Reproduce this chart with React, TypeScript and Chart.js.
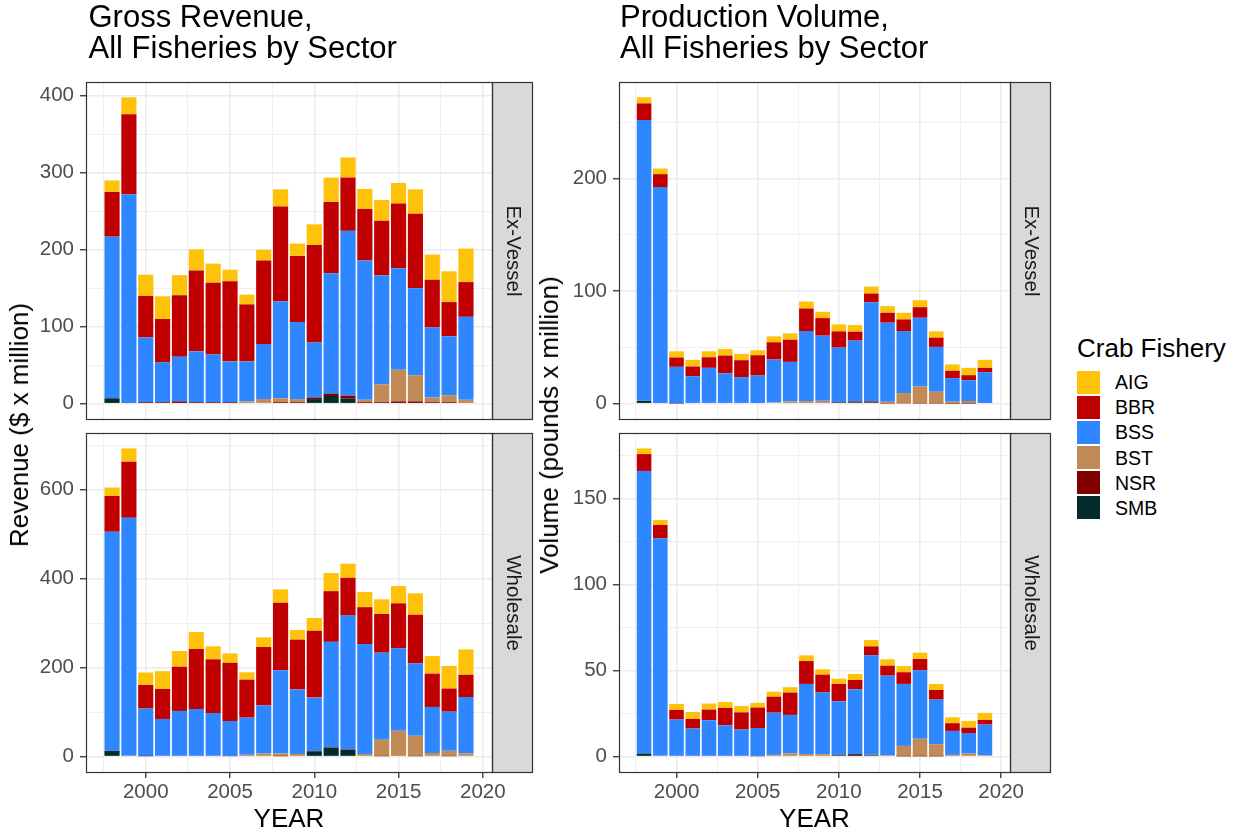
import React, { useEffect, useRef } from "react";
import { Chart, registerables } from "chart.js";

Chart.register(...registerables);

// ---------------- DATA ----------------
const YEARS = [1998, 1999, 2000, 2001, 2002, 2003, 2004, 2005, 2006, 2007, 2008, 2009, 2010, 2011, 2012, 2013, 2014, 2015, 2016, 2017, 2018, 2019];
const SERIES = ["AIG", "BBR", "BSS", "BST", "NSR", "SMB"];
const SERIES_COLORS = ["#FFC20A", "#C00000", "#2E87FF", "#C18A57", "#800000", "#032B2B"];

// Gross revenue, ex-vessel ($ million)
const REV_EX_AIG = [15, 22, 27.5, 29.5, 26, 27.6, 25, 15, 12.6, 14, 22.5, 16, 27, 31.6, 26, 26, 27.1, 26.7, 31.8, 32.7, 40, 43.5];
const REV_EX_BBR = [58, 104, 54, 56, 80, 105, 93, 104, 74, 108.5, 123, 86, 126.4, 92.4, 69.3, 67, 71, 84, 96.7, 62, 44.6, 45.2];
const REV_EX_BSS = [210, 272, 84, 52, 58, 66, 62, 53, 52, 71.5, 126, 100, 71.6, 156.6, 214, 181, 141.6, 132, 113, 91, 76.4, 107.8];
const REV_EX_BST = [0, 0, 0, 0, 0, 0, 0, 0, 2, 5, 5, 4, 0, 0, 0, 3, 23, 41, 34, 6, 9, 5];
const REV_EX_NSR = [0, 0, 2, 2, 3, 2, 2, 2, 1, 1, 2, 1, 2, 3, 4, 2, 2, 3, 3, 2, 2, 0];
const REV_EX_SMB = [7, 0, 0, 0, 0, 0, 0, 0, 0, 0, 0, 1, 6, 10, 6.5, 0, 0, 0, 0, 0, 0, 0];

// Gross revenue, wholesale ($ million)
const REV_WH_AIG = [19, 30, 28, 40, 35.5, 38, 29.3, 21, 16.5, 21.6, 30, 21.6, 28.6, 40.7, 31.7, 34, 33, 38.9, 48, 39.5, 51, 57];
const REV_WH_BBR = [80.4, 126, 53, 67.4, 99.4, 135, 120.7, 131, 85.4, 131.4, 152, 112, 150.4, 114, 85, 83, 86.9, 101.2, 109.3, 74.9, 52, 50];
const REV_WH_BSS = [492.6, 537, 107, 84.6, 102.6, 107, 98, 79, 83.6, 108, 187, 145, 119.6, 237, 301, 247, 195.7, 185.4, 162.7, 103.6, 88, 127];
const REV_WH_BST = [0, 0, 0, 0, 0, 0, 0, 1, 4, 7, 6, 6, 0, 0, 0, 6, 37, 56, 46, 8, 12, 7];
const REV_WH_NSR = [0, 0, 1, 0, 0, 0, 0, 0, 0, 0, 1, 0, 1, 1, 1, 0, 1, 2, 1, 0, 1, 0];
const REV_WH_SMB = [13, 0, 0, 0, 0, 0, 0, 0, 0, 0, 0, 0, 12, 20, 15, 0, 0, 0, 0, 0, 0, 0];

// Production volume, ex-vessel (million lb)
const VOL_EX_AIG = [5.4, 5, 5.5, 5.9, 5.3, 5.9, 5.6, 4.4, 5.3, 5.6, 6.2, 5.6, 6.2, 5.9, 6.2, 5.9, 5.9, 6.2, 5.6, 5.6, 6.5, 7.1];
const VOL_EX_BBR = [14.8, 11.5, 8.3, 8.6, 9.4, 15.7, 15, 18, 15.3, 19.7, 20, 15.6, 14.4, 7.9, 7.7, 8.8, 10.3, 9.4, 8.2, 6.5, 4.4, 3.8];
const VOL_EX_BSS = [249.3, 192.3, 32.4, 24.4, 31.8, 27, 23.6, 24.4, 38, 35.1, 62.2, 57.9, 48.3, 54, 88.1, 70.1, 55.1, 61, 39.8, 20.9, 18.5, 27.4];
const VOL_EX_BST = [0, 0, 0, 0, 0, 0, 0, 0.6, 1.2, 2, 2.3, 2.5, 0, 0, 0, 1.5, 9, 15, 10.3, 1.6, 2.2, 0.6];
const VOL_EX_NSR = [0, 0, 0.3, 0, 0, 0, 0, 0, 0, 0, 0, 0, 0.5, 0.8, 1, 0.3, 0.4, 0.3, 0.3, 0.2, 0.2, 0];
const VOL_EX_SMB = [2.5, 0, 0, 0, 0, 0, 0, 0, 0, 0, 0, 0, 1, 1.2, 1, 0, 0, 0, 0, 0, 0, 0];

// Production volume, wholesale (million lb)
const VOL_WH_AIG = [3.3, 2.9, 3.5, 4, 3.5, 3.4, 3.7, 2.7, 2.9, 3.1, 3.3, 3.1, 3.1, 3.5, 3.7, 3.7, 3.6, 3.7, 3.5, 3.4, 3.9, 4.1];
const VOL_WH_BBR = [9.8, 7.7, 5.6, 5.6, 6.2, 10.1, 10, 11.9, 9.3, 13, 13.3, 10.4, 10.1, 5.4, 5.2, 5.8, 6.8, 6.6, 5.6, 4.5, 3.1, 2.7];
const VOL_WH_BSS = [164.2, 126.8, 21.5, 16.3, 21.1, 18.2, 15.7, 16.4, 24.5, 22.3, 40.7, 35.8, 31.1, 37.6, 57.8, 46.2, 36, 39.8, 25.9, 13.9, 12, 17.8];
const VOL_WH_BST = [0, 0, 0, 0, 0, 0, 0, 0.2, 1, 1.9, 1.5, 1.4, 0, 0, 0, 0.8, 6, 10.1, 7, 1, 1.7, 0.8];
const VOL_WH_NSR = [0, 0, 0, 0, 0, 0, 0, 0, 0, 0, 0, 0, 0.3, 0.5, 0.3, 0, 0.2, 0.2, 0.2, 0, 0, 0];
const VOL_WH_SMB = [1.7, 0, 0, 0, 0, 0, 0, 0, 0, 0, 0, 0, 0.7, 1, 0.7, 0, 0, 0, 0, 0, 0, 0];

const X_TICKS = [2000, 2005, 2010, 2015, 2020];
const REV_EX_TICKS = [0, 100, 200, 300, 400];
const REV_WH_TICKS = [0, 200, 400, 600];
const VOL_EX_TICKS = [0, 100, 200];
const VOL_WH_TICKS = [0, 50, 100, 150];

const TITLE_LEFT = ["Gross Revenue,", "All Fisheries by Sector"];
const TITLE_RIGHT = ["Production Volume,", "All Fisheries by Sector"];
const Y_TITLE_LEFT = "Revenue ($ x million)";
const Y_TITLE_RIGHT = "Volume (pounds x million)";
const X_TITLE = "YEAR";
const LEGEND_TITLE = "Crab Fishery";
const STRIP_TOP = "Ex-Vessel";
const STRIP_BOTTOM = "Wholesale";

// ---------------- LAYOUT / STYLE ----------------
const FONT = '"Liberation Sans", Arial, Helvetica, sans-serif';
const STRIP_W = 40;
const Y_AXIS_W = 70;
const X_AXIS_H = 40;
const PAD_T = 24;
const PAD_B = 24;

type PanelDef = {
  id: string;
  left: number; top: number; right: number; bottom: number;
  showX: boolean; strip: string; ticks: number[];
  series: number[][]; // in SERIES order
};

const PANELS: PanelDef[] = [
  { id: "revEx", left: 86, top: 82, right: 492, bottom: 419, showX: false, strip: STRIP_TOP, ticks: REV_EX_TICKS,
    series: [REV_EX_AIG, REV_EX_BBR, REV_EX_BSS, REV_EX_BST, REV_EX_NSR, REV_EX_SMB] },
  { id: "revWh", left: 86, top: 433, right: 492, bottom: 772, showX: true, strip: STRIP_BOTTOM, ticks: REV_WH_TICKS,
    series: [REV_WH_AIG, REV_WH_BBR, REV_WH_BSS, REV_WH_BST, REV_WH_NSR, REV_WH_SMB] },
  { id: "volEx", left: 619, top: 82, right: 1010, bottom: 419, showX: false, strip: STRIP_TOP, ticks: VOL_EX_TICKS,
    series: [VOL_EX_AIG, VOL_EX_BBR, VOL_EX_BSS, VOL_EX_BST, VOL_EX_NSR, VOL_EX_SMB] },
  { id: "volWh", left: 619, top: 433, right: 1010, bottom: 772, showX: true, strip: STRIP_BOTTOM, ticks: VOL_WH_TICKS,
    series: [VOL_WH_AIG, VOL_WH_BBR, VOL_WH_BSS, VOL_WH_BST, VOL_WH_NSR, VOL_WH_SMB] },
];

function withMinor(major: number[], min: number, max: number) {
  const step = major[1] - major[0];
  const out: number[] = [];
  for (let v = major[0] - step; v <= major[major.length - 1] + step + 1e-9; v += step / 2) {
    if (v >= min - 1e-9 && v <= max + 1e-9) out.push(Math.round(v * 1000) / 1000);
  }
  return out;
}

const framePlugin = {
  id: "frame",
  afterDraw(chart: any, _args: any, opts: any) {
    const { ctx } = chart;
    const { left, top, right, bottom } = chart.chartArea;
    const l = Math.round(left) + 0.5;
    const t = Math.round(top) + 0.5;
    const r = Math.round(right) + 0.5;
    const b = Math.round(bottom) + 0.5;
    ctx.save();
    ctx.fillStyle = "#D9D9D9";
    ctx.fillRect(r, t, STRIP_W, b - t);
    ctx.strokeStyle = "#333333";
    ctx.lineWidth = 1.2;
    ctx.strokeRect(l, t, r - l, b - t);
    ctx.strokeRect(r, t, STRIP_W, b - t);
    ctx.translate(r + STRIP_W / 2, (t + b) / 2);
    ctx.rotate(Math.PI / 2);
    ctx.fillStyle = "#1A1A1A";
    ctx.font = `20.5px ${FONT}`;
    ctx.textAlign = "center";
    ctx.textBaseline = "middle";
    ctx.fillText(opts.label || "", 0, 0);
    ctx.restore();
  },
};

function PanelChart({ p }: { p: PanelDef }) {
  const ref = useRef<HTMLCanvasElement | null>(null);
  const cLeft = p.left - Y_AXIS_W;
  const cTop = p.top - PAD_T;
  const cW = p.right + STRIP_W + 6 - cLeft;
  const cH = p.bottom + (p.showX ? X_AXIS_H + 4 : PAD_B) - cTop;

  useEffect(() => {
    if (!ref.current) return;
    const totals = YEARS.map((_, i) => p.series.reduce((s, arr) => s + arr[i], 0));
    const yTop = Math.max(...totals);
    const yMin = -0.05 * yTop;
    const yMax = 1.05 * yTop;
    const xLo = YEARS[0] - 0.45;
    const xHi = YEARS[YEARS.length - 1] + 0.45;
    const xPad = 0.05 * (xHi - xLo);
    const xMin = xLo - xPad;
    const xMax = xHi + xPad;
    const xTicks = withMinor(X_TICKS, xMin, xMax);
    const yTicks = withMinor(p.ticks, yMin, yMax);
    const isMajX = (v: number) => X_TICKS.includes(v);
    const isMajY = (v: number) => p.ticks.includes(v);

    const stackOrder = [5, 4, 3, 2, 1, 0]; // SMB at bottom ... AIG on top
    const datasets = stackOrder.map((si) => ({
      label: SERIES[si],
      data: YEARS.map((y, i) => ({ x: y, y: p.series[si][i] })),
      backgroundColor: SERIES_COLORS[si],
      borderWidth: 0,
      barPercentage: 0.9,
      categoryPercentage: 1,
    }));

    const chart = new Chart(ref.current, {
      type: "bar",
      data: { datasets } as any,
      options: {
        animation: false,
        responsive: false,
        devicePixelRatio: 1,
        layout: { padding: { left: 0, top: PAD_T, right: STRIP_W + 6, bottom: p.showX ? 4 : PAD_B } },
        plugins: {
          legend: { display: false },
          tooltip: { enabled: false },
          frame: { label: p.strip },
        } as any,
        scales: {
          x: {
            type: "linear",
            stacked: true,
            offset: false,
            min: xMin,
            max: xMax,
            afterBuildTicks: (s: any) => { s.ticks = xTicks.map((v) => ({ value: v })); },
            afterFit: (s: any) => { s.height = p.showX ? X_AXIS_H : 0; },
            ticks: {
              display: p.showX,
              autoSkip: false,
              maxRotation: 0,
              padding: 2,
              color: "#4D4D4D",
              font: { family: FONT, size: 20.5 },
              callback: (v: any) => (isMajX(Number(v)) ? String(v) : ""),
            },
            grid: {
              offset: false,
              drawTicks: p.showX,
              tickLength: 6,
              color: "#EBEBEB",
              lineWidth: (c: any) => (c.tick && isMajX(c.tick.value) ? 1.5 : 0.75),
              tickColor: (c: any) => (c.tick && isMajX(c.tick.value) ? "#333333" : "rgba(0,0,0,0)"),
              tickWidth: 1.3,
            },
            border: { display: false },
          },
          y: {
            type: "linear",
            stacked: true,
            min: yMin,
            max: yMax,
            afterBuildTicks: (s: any) => { s.ticks = yTicks.map((v) => ({ value: v })); },
            afterFit: (s: any) => { s.width = Y_AXIS_W; },
            ticks: {
              autoSkip: false,
              padding: 6,
              color: "#4D4D4D",
              font: { family: FONT, size: 20.5 },
              callback: (v: any) => (isMajY(Number(v)) ? String(v) : ""),
            },
            grid: {
              drawTicks: true,
              tickLength: 6,
              color: "#EBEBEB",
              lineWidth: (c: any) => (c.tick && isMajY(c.tick.value) ? 1.5 : 0.75),
              tickColor: (c: any) => (c.tick && isMajY(c.tick.value) ? "#333333" : "rgba(0,0,0,0)"),
              tickWidth: 1.3,
            },
            border: { display: false },
          },
        },
      } as any,
      plugins: [framePlugin as any],
    });
    return () => chart.destroy();
  }, []);

  return (
    <canvas
      ref={ref}
      width={cW}
      height={cH}
      style={{ position: "absolute", left: cLeft, top: cTop, width: cW, height: cH }}
    />
  );
}

const textBase: React.CSSProperties = { position: "absolute", fontFamily: FONT, color: "#000", whiteSpace: "nowrap" };

export default function App() {
  const legendTops = [370.7, 395.8, 420.9, 446, 471.1, 496.2];
  return (
    <div style={{ position: "absolute", left: 0, top: 0, width: 1236, height: 836, background: "#FFFFFF", overflow: "hidden" }}>
      {PANELS.map((p) => (
        <PanelChart key={p.id} p={p} />
      ))}
      <div style={{ ...textBase, left: 88.5, top: 0.5, fontSize: 31, lineHeight: "31.6px" }}>
        {TITLE_LEFT.map((t) => (<div key={t}>{t}</div>))}
      </div>
      <div style={{ ...textBase, left: 620, top: 0.5, fontSize: 31, lineHeight: "31.6px" }}>
        {TITLE_RIGHT.map((t) => (<div key={t}>{t}</div>))}
      </div>
      <div style={{ ...textBase, left: 19, top: 425, fontSize: 26, lineHeight: "26px", transform: "translate(-50%,-50%) rotate(-90deg)" }}>{Y_TITLE_LEFT}</div>
      <div style={{ ...textBase, left: 549, top: 425, fontSize: 26, lineHeight: "26px", transform: "translate(-50%,-50%) rotate(-90deg)" }}>{Y_TITLE_RIGHT}</div>
      <div style={{ ...textBase, left: 289, top: 818, fontSize: 26, lineHeight: "26px", transform: "translate(-50%,-50%)" }}>{X_TITLE}</div>
      <div style={{ ...textBase, left: 814.5, top: 818, fontSize: 26, lineHeight: "26px", transform: "translate(-50%,-50%)" }}>{X_TITLE}</div>
      <div style={{ ...textBase, left: 1077, top: 335, fontSize: 26, lineHeight: "26px" }}>{LEGEND_TITLE}</div>
      {SERIES.map((s, i) => (
        <React.Fragment key={s}>
          <div style={{ position: "absolute", left: 1077, top: legendTops[i], width: 23, height: 23, background: SERIES_COLORS[i] }} />
          <div style={{ ...textBase, left: 1115, top: legendTops[i] + 11.5, fontSize: 19.5, lineHeight: "20px", transform: "translateY(-50%)" }}>{s}</div>
        </React.Fragment>
      ))}
    </div>
  );
}
